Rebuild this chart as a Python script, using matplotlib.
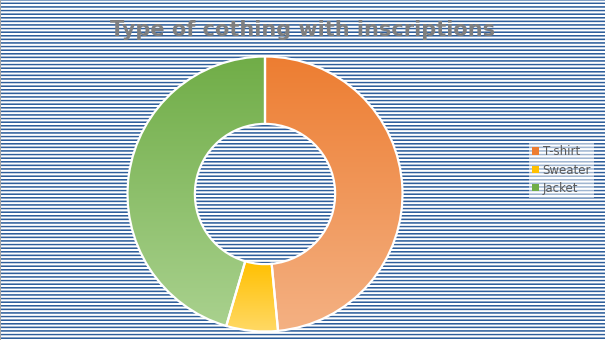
import numpy as np
import matplotlib
matplotlib.use("Agg")
import matplotlib.pyplot as plt
from matplotlib.colors import LinearSegmentedColormap, to_rgb
from matplotlib.patches import Patch

categories = ["T-shirt", "Sweater", "Jacket"]
values = [16, 2, 15]
top_colors = ["#ED7D31", "#FFC000", "#70AD47"]
bottom_colors = ["#F4B183", "#FFD966", "#A9D18E"]
title = "Type of cothing with inscriptions"

W, H = 605, 340
fig = plt.figure(figsize=(W / 100, H / 100), dpi=100)
fig.patch.set_facecolor("white")

# striped background rendered pixel-exact
period, thick = 3.6, 1.4
rows = np.arange(H)
cov = np.zeros(H)
for sub in np.linspace(0, 1, 8, endpoint=False):
    cov += (((rows + sub + 1.0) % period) < thick)
cov /= 8
cov = np.clip(cov * 1.15, 0, 1)
blue = np.array(to_rgb("#2E5E9B"))
img = 1 - cov[:, None, None] * (1 - blue[None, None, :])
img = np.repeat(img, W, axis=1)
img[:, 0, :] = to_rgb("#A6A6A6")
bg = fig.add_axes([0, 0, 1, 1])
bg.imshow(img, extent=[0, W, H, 0], interpolation="nearest", aspect="auto")
bg.set_xlim(0, W)
bg.set_ylim(H, 0)
bg.axis("off")

# donut
cx, cy, R = 265, 194, 137.5
half = 140
ax = fig.add_axes([(cx - half) / W, (H - cy - half) / H, 2 * half / W, 2 * half / H])
ax.patch.set_alpha(0)
wedges, _ = ax.pie(values, startangle=90, counterclock=False, radius=1,
                   wedgeprops=dict(width=0.49, edgecolor="white", linewidth=1.6))
grad = np.linspace(0, 1, 256).reshape(-1, 1)
for w, tc, bc in zip(wedges, top_colors, bottom_colors):
    ext = w.get_path().get_extents()
    cmap = LinearSegmentedColormap.from_list("g", [tc, bc])
    im = ax.imshow(grad, cmap=cmap, extent=[ext.x0, ext.x1, ext.y0, ext.y1],
                   origin="upper", aspect="auto", zorder=1, interpolation="bilinear")
    im.set_clip_path(w)
    w.set_facecolor("none")
    w.set_zorder(2)
lim = half / R
ax.set_xlim(-lim, lim)
ax.set_ylim(-lim, lim)
ax.set_aspect("equal")
ax.axis("off")

fig.text(0.5, 1 - 30 / H, title, ha="center", va="center", fontsize=15,
         fontweight="bold", color="#7F7F7F")

handles = [Patch(facecolor=c, edgecolor="none") for c in top_colors]
leg = fig.legend(handles, categories, loc="center left",
                 bbox_to_anchor=(529 / W, 1 - 170 / H), frameon=True,
                 fontsize=8.5, labelcolor="#595959", handlelength=0.6,
                 handleheight=0.6, handletextpad=0.3, labelspacing=0.45,
                 borderpad=0.25, borderaxespad=0)
fr = leg.get_frame()
fr.set_facecolor("white")
fr.set_alpha(0.55)
fr.set_edgecolor("none")
fr.set_boxstyle("square", pad=0)

fig.savefig("out.png", dpi=100)
